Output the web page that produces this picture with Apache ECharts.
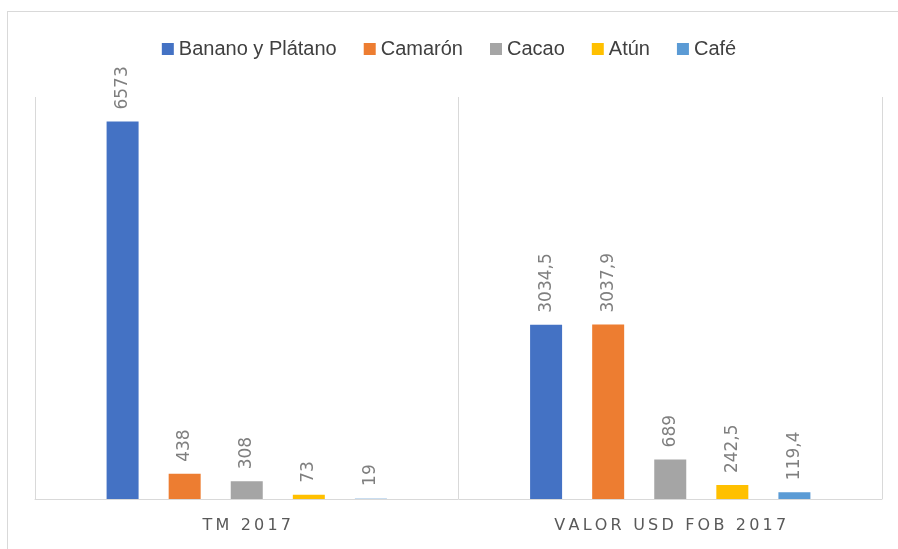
<!DOCTYPE html>
<html>
<head>
<meta charset="utf-8" />
<title>Exportaciones 2017</title>
<script src="https://cdn.jsdelivr.net/npm/echarts@6/dist/echarts.min.js"></script>
<style>
  html, body { margin: 0; padding: 0; background: #fff; }
  #frame { position: absolute; left: 7px; top: 11px; width: 900px; height: 560px; border: 1px solid #d9d9d9; box-sizing: border-box; }
  #main { position: absolute; left: 0; top: 0; width: 898px; height: 549px; }
</style>
</head>
<body>
<div id="frame"></div>
<div id="main"></div>
<script>
// datos
var categorias = ['TM 2017', 'VALOR USD FOB 2017'];
var productos = ['Banano y Plátano', 'Camarón', 'Cacao', 'Atún', 'Café'];
var colores = ['#4472c4', '#ed7d31', '#a5a5a5', '#ffc000', '#5b9bd5'];
var banano = [6573, 3034.5];
var camaron = [438, 3037.9];
var cacao = [308, 689];
var atun = [73, 242.5];
var cafe = [19, 119.4];
var valores = [banano, camaron, cacao, atun, cafe];

var myChart = echarts.init(document.getElementById('main'));

var series = productos.map(function (nombre, i) {
  var datos = valores[i].map(function (v) { return v; });
  if (i === 4) {
    // el primer punto de Café va en azul claro
    datos[0] = { value: valores[i][0], itemStyle: { color: '#c9ddf0' } };
  }
  return {
    name: nombre,
    type: 'bar',
    barWidth: 32,
    barGap: '94%',
    barCategoryGap: '34%',
    itemStyle: { color: colores[i] },
    label: {
      show: true,
      position: 'top',
      rotate: 90,
      align: 'left',
      verticalAlign: 'middle',
      distance: 12,
      color: '#7f7f7f',
      fontFamily: 'DejaVu Sans',
      fontSize: 17,
      formatter: function (p) { return String(p.value).replace('.', ','); }
    },
    data: datos
  };
});

myChart.setOption({
  animation: false,
  legend: {
    top: 34,
    left: 'center',
    itemWidth: 12,
    itemHeight: 12,
    itemGap: 27,
    icon: 'rect',
    textStyle: { color: '#404040', fontSize: 20, fontFamily: 'Liberation Sans Narrow, Liberation Sans, sans-serif', padding: [0, 0, 0, 0] },
    data: productos
  },
  grid: { left: 35, right: 16, top: 97, bottom: 50 },
  xAxis: {
    type: 'category',
    data: categorias,
    axisLine: { lineStyle: { color: '#d9d9d9', width: 1 } },
    axisTick: { show: false },
    splitLine: { show: true, lineStyle: { color: '#d9d9d9' } },
    axisLabel: {
      color: '#595959',
      fontSize: 16,
      fontFamily: 'DejaVu Sans',
      margin: 19,
      formatter: function (t) { return t.split('').join('\u2009'); }
    }
  },
  yAxis: {
    type: 'value',
    min: 0,
    max: 7000,
    show: false,
    splitLine: { show: false }
  },
  series: series
});

window.onresize = function () { myChart.resize(); };
</script>
</body>
</html>
